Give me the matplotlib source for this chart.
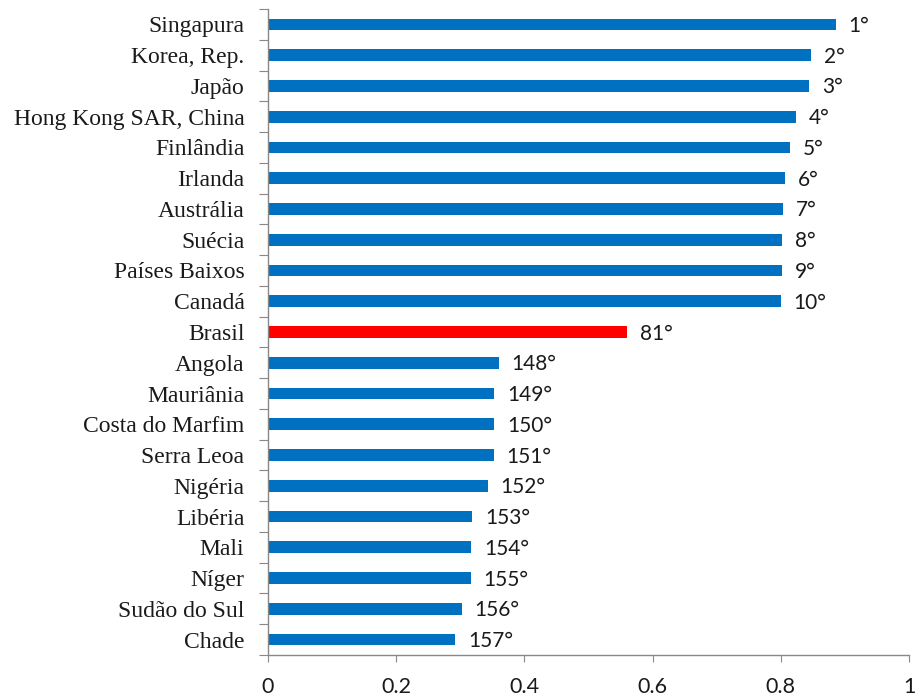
import matplotlib
matplotlib.use("Agg")
import matplotlib.pyplot as plt
import numpy as np

countries = ["Singapura", "Korea, Rep.", "Japão", "Hong Kong SAR, China", "Finlândia",
             "Irlanda", "Austrália", "Suécia", "Países Baixos", "Canadá", "Brasil",
             "Angola", "Mauriânia", "Costa do Marfim", "Serra Leoa", "Nigéria",
             "Libéria", "Mali", "Níger", "Sudão do Sul", "Chade"]
values = [0.886, 0.847, 0.844, 0.823, 0.814, 0.807, 0.803, 0.802, 0.802, 0.800, 0.560,
          0.360, 0.353, 0.353, 0.352, 0.343, 0.319, 0.317, 0.316, 0.302, 0.292]
ranks = ["1°", "2°", "3°", "4°", "5°", "6°", "7°", "8°", "9°", "10°", "81°",
         "148°", "149°", "150°", "151°", "152°", "153°", "154°", "155°", "156°", "157°"]
highlight = "Brasil"
xticks = [0, 0.2, 0.4, 0.6, 0.8, 1]
xticklabels = ["0", "0.2", "0.4", "0.6", "0.8", "1"]

fig = plt.figure(figsize=(9.18, 6.98), dpi=100)
ax = fig.add_axes([268/918, 1-655/698, (909-268)/918, (655-9)/698])

n = len(countries)
ypos = np.arange(n)
colors = ["#FF0000" if c == highlight else "#0070C0" for c in countries]
ax.barh(ypos, values, height=0.38, color=colors, edgecolor="none", zorder=2)

for y, v, r in zip(ypos, values, ranks):
    ax.text(v + 0.02, y + 0.05, r, va="center", ha="left", fontsize=15,
            family=["Lato", "DejaVu Sans"], color="#1a1a1a")

ax.set_ylim(n - 0.5, -0.5)
ax.set_xlim(0, 1)

ax.set_yticks(np.arange(-0.5, n, 1.0))
ax.set_yticklabels([])
ax.set_yticks(ypos, minor=True)
ax.set_yticklabels(countries, minor=True, fontsize=17, family="Liberation Serif", color="#1a1a1a")
ax.tick_params(axis="y", which="major", length=6.5, color="#888888", direction="out")
ax.tick_params(axis="y", which="minor", length=0, pad=17)

ax.set_xticks(xticks)
ax.set_xticklabels(xticklabels, fontsize=15.5, family=["Lato", "DejaVu Sans"], color="#1a1a1a")
ax.tick_params(axis="x", length=5, color="#888888", pad=11)

for s in ["top", "right"]:
    ax.spines[s].set_visible(False)
for s in ["left", "bottom"]:
    ax.spines[s].set_color("#888888")
    ax.spines[s].set_linewidth(1.0)

fig.savefig("out.png", dpi=100)
